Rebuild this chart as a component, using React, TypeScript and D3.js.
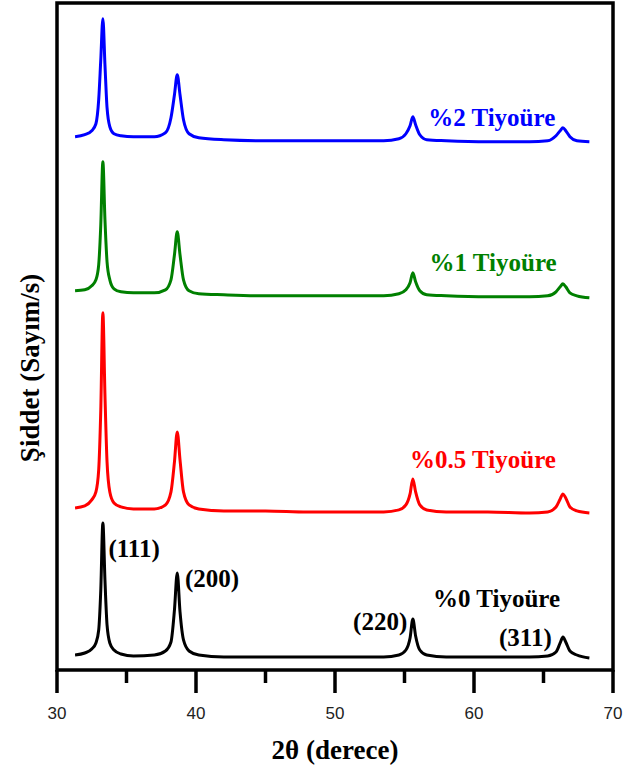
import React from "react";
import * as d3 from "d3";

// 2theta sample points shared by all patterns
const twoTheta = [
  31.3, 32.0, 32.5, 32.8, 33.0, 33.15, 33.3, 33.45, 33.6, 33.8, 34.1, 34.6, 35.5,
  37.0, 37.8, 38.2, 38.45, 38.65, 38.85, 39.1, 39.5, 40.2,
  42, 45, 48, 51, 53.5,
  54.6, 55.1, 55.4, 55.6, 55.8, 56.1, 56.6,
  58, 61, 64,
  65.3, 65.9, 66.2, 66.4, 66.6, 66.9, 67.4, 68.3,
];

// stacked intensities (a.u.)
const thio0 = [
  90, 102, 126, 162, 240, 480, 882, 540, 270, 162, 120, 96, 84,
  90, 114, 168, 360, 582, 348, 180, 114, 90,
  78, 78, 78, 78, 78,
  90, 120, 192, 306, 204, 120, 90,
  78, 78, 78,
  84, 108, 162, 198, 168, 114, 90, 72,
];
const thio05 = [
  972, 984, 1020, 1068, 1200, 1560, 2142, 1650, 1248, 1068, 1002, 978, 966,
  966, 990, 1068, 1248, 1428, 1260, 1068, 990, 966,
  954, 954, 948, 948, 948,
  960, 990, 1056, 1146, 1068, 990, 960,
  948, 948, 942,
  948, 978, 1026, 1056, 1032, 978, 954, 942,
];
const thio1 = [
  2274, 2280, 2304, 2340, 2430, 2670, 3048, 2700, 2448, 2340, 2286, 2268, 2262,
  2262, 2280, 2340, 2490, 2628, 2490, 2340, 2274, 2256,
  2250, 2244, 2244, 2244, 2244,
  2256, 2280, 2322, 2382, 2328, 2274, 2250,
  2244, 2238, 2238,
  2244, 2268, 2298, 2316, 2298, 2262, 2244, 2232,
];
const thio2 = [
  3198, 3210, 3234, 3276, 3420, 3660, 3906, 3630, 3372, 3258, 3216, 3204, 3198,
  3198, 3222, 3312, 3450, 3570, 3450, 3300, 3216, 3192,
  3180, 3174, 3174, 3174, 3174,
  3186, 3216, 3264, 3318, 3270, 3210, 3180,
  3174, 3168, 3168,
  3174, 3204, 3234, 3252, 3234, 3198, 3174, 3168,
];

const seriesNames = ["%0 Tiyoüre", "%0.5 Tiyoüre", "%1 Tiyoüre", "%2 Tiyoüre"];
const seriesColors = ["#000000", "#ff0000", "#008000", "#0000ff"];
const seriesValues = [thio0, thio05, thio1, thio2];

// label anchor in data units for each series name
const labelX = [57.05, 55.4, 56.8, 56.7];
const labelY = [378, 1212, 2394, 3264];

const peakLabels = ["(111)", "(200)", "(220)", "(311)"];
const peakLabelX = [33.7, 39.2, 51.3, 61.8];
const peakLabelY = [678, 498, 240, 144];

const xTicks = [30, 40, 50, 60, 70];
const xMinor = [35, 45, 55, 65];

const W = 638;
const H = 772;
const left = 57;
const right = 613;
const top = 3;
const bottom = 670;

export default function App() {
  const x = d3.scaleLinear().domain([30, 70]).range([left, right]);
  const y = d3.scaleLinear().domain([0, 4000]).range([bottom, top]);

  const line = d3
    .line<number>()
    .x((_, i) => x(twoTheta[i]))
    .y((d) => y(d))
    .curve(d3.curveMonotoneX);

  const serif = "'Liberation Serif', 'Times New Roman', serif";
  const sans = "'Liberation Sans', Arial, sans-serif";

  return (
    <svg
      width={W}
      height={H}
      style={{ position: "absolute", left: 0, top: 0, background: "#fff" }}
    >
      {seriesValues.map((vals, k) => (
        <path
          key={k}
          d={line(vals) || ""}
          fill="none"
          stroke={seriesColors[k]}
          strokeWidth={3}
          strokeLinejoin="round"
        />
      ))}

      {seriesNames.map((name, k) => (
        <text
          key={name}
          x={x(labelX[k])}
          y={y(labelY[k])}
          fill={seriesColors[k]}
          fontFamily={serif}
          fontWeight="bold"
          fontSize={25}
        >
          {name}
        </text>
      ))}

      {peakLabels.map((p, k) => (
        <text
          key={p}
          x={x(peakLabelX[k])}
          y={y(peakLabelY[k])}
          fill="#000"
          fontFamily={serif}
          fontWeight="bold"
          fontSize={25}
        >
          {p}
        </text>
      ))}

      {/* frame */}
      <rect
        x={left}
        y={top}
        width={right - left}
        height={bottom - top}
        fill="none"
        stroke="#000"
        strokeWidth={3.5}
      />

      {/* ticks */}
      {xTicks.map((t) => (
        <g key={t}>
          <line x1={x(t)} x2={x(t)} y1={bottom} y2={bottom + 23} stroke="#000" strokeWidth={3.5} />
          <text
            x={x(t)}
            y={bottom + 49}
            textAnchor="middle"
            fontFamily={sans}
            fontSize={17}
            fill="#222"
          >
            {t}
          </text>
        </g>
      ))}
      {xMinor.map((t) => (
        <line key={t} x1={x(t)} x2={x(t)} y1={bottom} y2={bottom + 13} stroke="#000" strokeWidth={3.5} />
      ))}

      <text
        x={335}
        y={759}
        textAnchor="middle"
        fontFamily={serif}
        fontWeight="bold"
        fontSize={27}
      >
        2θ (derece)
      </text>
      <text
        transform={`translate(39,${368}) rotate(-90)`}
        textAnchor="middle"
        fontFamily={serif}
        fontWeight="bold"
        fontSize={27}
      >
        Şiddet (Sayım/s)
      </text>
    </svg>
  );
}
